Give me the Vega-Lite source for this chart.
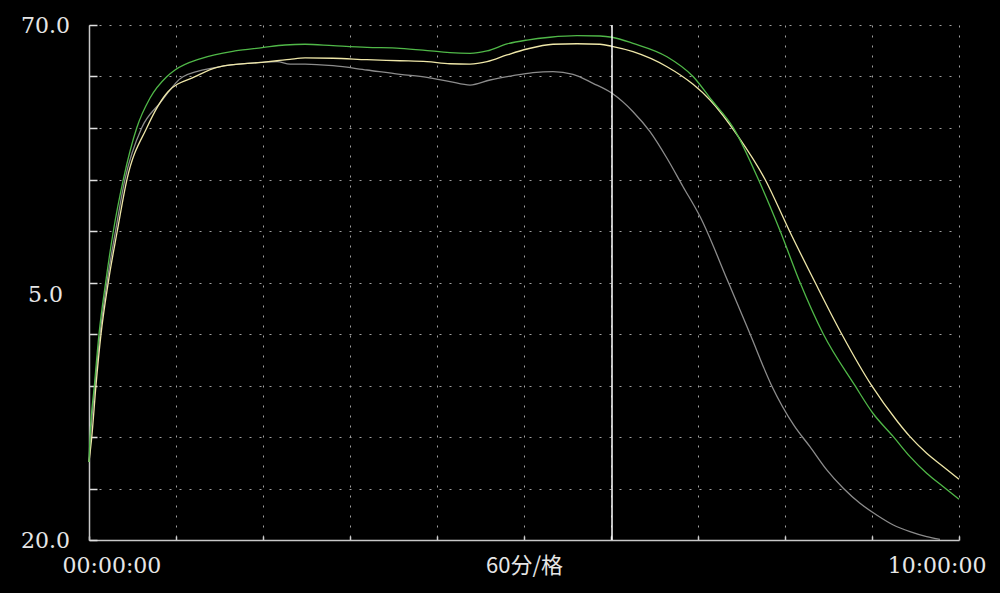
{
  "$schema": "https://vega.github.io/schema/vega-lite/v6.json",
  "width": 870,
  "height": 515,
  "autosize": {"type": "none"},
  "padding": {"left": 89, "top": 25, "right": 41, "bottom": 53},
  "background": "#000000",
  "config": {"view": {"stroke": null}},
  "datasets": {
    "curves": [
      {"s":"gray","t":0,"v":27.57},{"s":"gray","t":1.0,"v":30.0},{"s":"gray","t":4.1,"v":34.98},{"s":"gray","t":7.6,"v":40.0},{"s":"gray","t":12.4,"v":45.02},{"s":"gray","t":18.3,"v":50.0},{"s":"gray","t":24.8,"v":55.02},{"s":"gray","t":36.3,"v":60.0},{"s":"gray","t":49.0,"v":62.43},{"s":"gray","t":64.8,"v":64.98},{"s":"gray","t":89.0,"v":65.92},{"s":"gray","t":119.3,"v":66.38},{"s":"gray","t":129.7,"v":66.45},{"s":"gray","t":138.6,"v":66.2},{"s":"gray","t":149.0,"v":66.21},{"s":"gray","t":168.3,"v":66.05},{"s":"gray","t":191.7,"v":65.63},{"s":"gray","t":214.5,"v":65.21},{"s":"gray","t":233.1,"v":64.92},{"s":"gray","t":249.0,"v":64.5},{"s":"gray","t":262.8,"v":64.17},{"s":"gray","t":276.6,"v":64.66},{"s":"gray","t":292.4,"v":65.08},{"s":"gray","t":306.2,"v":65.37},{"s":"gray","t":320.0,"v":65.47},{"s":"gray","t":333.8,"v":65.21},{"s":"gray","t":347.6,"v":64.34},{"s":"gray","t":360.7,"v":63.37},{"s":"gray","t":375.2,"v":61.58},{"s":"gray","t":386.9,"v":59.64},{"s":"gray","t":398.6,"v":57.06},{"s":"gray","t":409.7,"v":54.3},{"s":"gray","t":421.4,"v":51.4},{"s":"gray","t":440.9,"v":45.02},{"s":"gray","t":455.9,"v":40.0},{"s":"gray","t":470.8,"v":34.98},{"s":"gray","t":486.3,"v":31.1},{"s":"gray","t":497.2,"v":29.06},{"s":"gray","t":508.8,"v":26.8},{"s":"gray","t":520.2,"v":25.02},{"s":"gray","t":531.7,"v":23.56},{"s":"gray","t":543.2,"v":22.43},{"s":"gray","t":554.7,"v":21.46},{"s":"gray","t":566.2,"v":20.81},{"s":"gray","t":577.7,"v":20.32},{"s":"gray","t":586.9,"v":20.05},
      {"s":"cream","t":0,"v":27.57},{"s":"cream","t":1.9,"v":29.97},{"s":"cream","t":4.8,"v":34.98},{"s":"cream","t":8.3,"v":40.0},{"s":"cream","t":13.3,"v":45.02},{"s":"cream","t":19.5,"v":50.0},{"s":"cream","t":26.2,"v":55.02},{"s":"cream","t":39.8,"v":60.0},{"s":"cream","t":54.5,"v":63.52},{"s":"cream","t":73.1,"v":64.98},{"s":"cream","t":89.0,"v":65.92},{"s":"cream","t":119.3,"v":66.38},{"s":"cream","t":129.7,"v":66.53},{"s":"cream","t":138.6,"v":66.67},{"s":"cream","t":149.0,"v":66.8},{"s":"cream","t":168.3,"v":66.77},{"s":"cream","t":191.7,"v":66.63},{"s":"cream","t":214.5,"v":66.53},{"s":"cream","t":233.1,"v":66.44},{"s":"cream","t":249.0,"v":66.24},{"s":"cream","t":262.8,"v":66.21},{"s":"cream","t":274.5,"v":66.44},{"s":"cream","t":288.3,"v":67.09},{"s":"cream","t":302.1,"v":67.67},{"s":"cream","t":320.0,"v":68.13},{"s":"cream","t":336.6,"v":68.18},{"s":"cream","t":352.4,"v":68.13},{"s":"cream","t":360.7,"v":67.93},{"s":"cream","t":375.2,"v":67.41},{"s":"cream","t":398.6,"v":65.95},{"s":"cream","t":416.6,"v":64.24},{"s":"cream","t":428.3,"v":62.72},{"s":"cream","t":447.8,"v":59.16},{"s":"cream","t":466.2,"v":55.02},{"s":"cream","t":483.0,"v":50.03},{"s":"cream","t":500.7,"v":45.02},{"s":"cream","t":519.1,"v":40.0},{"s":"cream","t":539.8,"v":34.98},{"s":"cream","t":557.0,"v":31.6},{"s":"cream","t":566.2,"v":30.03},{"s":"cream","t":577.7,"v":28.42},{"s":"cream","t":589.2,"v":27.12},{"s":"cream","t":600,"v":25.89},
      {"s":"green","t":0,"v":27.57},{"s":"green","t":0.7,"v":29.97},{"s":"green","t":3.7,"v":34.98},{"s":"green","t":6.9,"v":40.0},{"s":"green","t":11.5,"v":45.02},{"s":"green","t":16.8,"v":50.0},{"s":"green","t":23.7,"v":55.02},{"s":"green","t":32.9,"v":60.0},{"s":"green","t":42.1,"v":62.91},{"s":"green","t":53.6,"v":64.98},{"s":"green","t":59.3,"v":65.63},{"s":"green","t":77.7,"v":66.77},{"s":"green","t":100.7,"v":67.48},{"s":"green","t":119.5,"v":67.8},{"s":"green","t":135.2,"v":68.06},{"s":"green","t":149.0,"v":68.13},{"s":"green","t":168.3,"v":67.99},{"s":"green","t":191.7,"v":67.83},{"s":"green","t":214.5,"v":67.74},{"s":"green","t":230.3,"v":67.57},{"s":"green","t":249.0,"v":67.31},{"s":"green","t":262.8,"v":67.25},{"s":"green","t":274.5,"v":67.48},{"s":"green","t":288.3,"v":68.16},{"s":"green","t":302.1,"v":68.54},{"s":"green","t":317.9,"v":68.81},{"s":"green","t":336.6,"v":68.96},{"s":"green","t":352.4,"v":68.93},{"s":"green","t":360.7,"v":68.81},{"s":"green","t":375.2,"v":68.22},{"s":"green","t":398.6,"v":66.92},{"s":"green","t":416.6,"v":65.0},{"s":"green","t":429.4,"v":62.72},{"s":"green","t":444.3,"v":60.03},{"s":"green","t":461.6,"v":55.02},{"s":"green","t":476.6,"v":50.03},{"s":"green","t":490.3,"v":45.02},{"s":"green","t":506.4,"v":40.0},{"s":"green","t":528.3,"v":34.98},{"s":"green","t":540.5,"v":32.33},{"s":"green","t":554.7,"v":30.03},{"s":"green","t":566.2,"v":28.09},{"s":"green","t":577.7,"v":26.48},{"s":"green","t":589.2,"v":25.17},{"s":"green","t":600,"v":23.95}
    ],
    "cursor": [{"t": 360.7}]
  },
  "layer": [
    {
      "data": {"name": "curves"},
      "mark": {"type": "line", "strokeWidth": 1.3, "interpolate": "monotone"},
      "encoding": {
        "x": {
          "field": "t", "type": "quantitative",
          "scale": {"domain": [0, 600], "nice": false, "zero": false},
          "axis": {
            "title": null,
            "values": [0, 60, 120, 180, 240, 300, 360, 420, 480, 540, 600],
            "labelExpr": "datum.value==0?'00:00:00':datum.value==300?'60分/格':datum.value==600?'10:00:00':''",
            "labelFlush": true, "labelFlushOffset": 27, "labelOverlap": false,
            "labelFont": {"condition": {"test": "datum.value==300", "value": "Noto Sans CJK SC"}, "value": "DejaVu Serif"},
            "labelFontSize": 22, "labelColor": "#e6e6e6", "labelPadding": 29, "labelBaseline": "middle",
            "grid": true, "gridColor": "#a0a0a0", "gridDash": [2, 8], "gridWidth": 1,
            "domainColor": "#c8c8c8", "domainWidth": 1.5,
            "tickColor": "#d0d0d0", "tickSize": -4, "tickWidth": 1.5
          }
        },
        "y": {
          "field": "v", "type": "quantitative",
          "scale": {"domain": [20, 70], "nice": false, "zero": false},
          "axis": {
            "title": null,
            "values": [20, 25, 30, 35, 40, 45, 50, 55, 60, 65, 70],
            "labelExpr": "datum.value==70?'70.0':datum.value==45?'5.0':datum.value==20?'20.0':''",
            "labelAlign": "center", "labelBaseline": "middle", "labelPadding": 52,
            "labelOffset": {"condition": {"test": "datum.value==45", "value": 12}, "value": 0},
            "labelFont": "DejaVu Serif", "labelFontSize": 22, "labelColor": "#e6e6e6", "labelOverlap": false,
            "grid": true, "gridColor": "#a0a0a0", "gridDash": [2, 8], "gridWidth": 1,
            "domainColor": "#c8c8c8", "domainWidth": 1.5,
            "tickColor": "#e0e0e0", "tickSize": -8, "tickWidth": 1.5
          }
        },
        "color": {
          "field": "s", "type": "nominal",
          "scale": {"domain": ["gray", "cream", "green"], "range": ["#8c8c8c", "#efe7a8", "#50b848"]},
          "legend": null
        }
      }
    },
    {
      "data": {"name": "cursor"},
      "mark": {"type": "rule", "color": "#ffffff", "strokeWidth": 1.5},
      "encoding": {"x": {"field": "t", "type": "quantitative", "title": null}}
    }
  ]
}
